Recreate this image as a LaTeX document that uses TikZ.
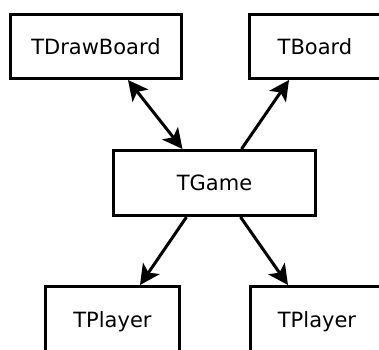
\documentclass[tikz,border=0pt]{standalone}
\usepackage{fontspec}
\setmainfont{DejaVu Sans}
\usetikzlibrary{arrows.meta}

\begin{document}
\begin{tikzpicture}[
          x=1pt, y=-1pt,
          classbox/.style={
            rectangle,
            draw=black,
            line width=3pt,
            inner sep=0pt,
            minimum height=64pt,
            font=\fontsize{21}{25}\selectfont,
          },
          link/.style={
            line width=3pt,
            -{Stealth[length=20pt,width=20pt,inset=5pt]},
          },
          twolink/.style={
            line width=3pt,
            {Stealth[length=20pt,width=20pt,inset=5pt]}-{Stealth[length=20pt,width=20pt,inset=5pt]},
          },
        ]
          \useasboundingbox (0,0) rectangle (379,349);
          \clip (0,0) rectangle (379,349);

          \node[classbox, minimum width=171pt](dboard) at (96,46.5) {TDrawBoard};
          \node[classbox, minimum width=131pt](board) at (315,46.5) {TBoard};
          \node[classbox, minimum width=202pt, minimum height=65pt](game) at (214.5,183) {TGame};
          \node[classbox, minimum width=134pt, minimum height=70pt](player1) at (112.5,321.5) {TPlayer};
          \node[classbox, minimum width=134pt, minimum height=70pt](player2) at (317,321.5) {TPlayer};

          \draw
              ([xshift=32pt]dboard.south) edge [twolink] ([xshift=-32pt]game.north)
              ([xshift=27pt]game.north) edge [link] ([xshift=-26pt]board.south)
              ([xshift=-28pt]game.south) edge [link] ([xshift=27.5pt]player1.north)
              ([xshift=26pt]game.south) edge [link] ([xshift=-29pt]player2.north);
        \end{tikzpicture}
\end{document}
